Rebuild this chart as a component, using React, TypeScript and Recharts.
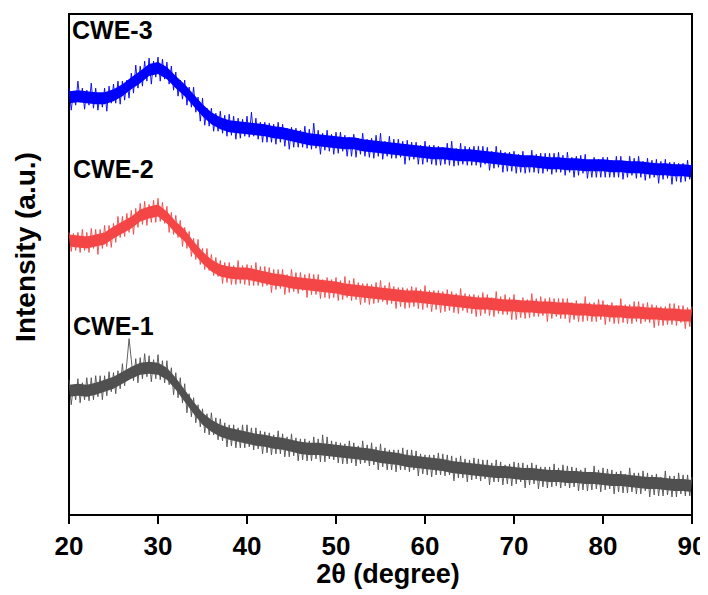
import { ComposedChart, Line, Area, XAxis, YAxis, ReferenceArea } from 'recharts';

// 2θ: scan sampled every 0.25°, dense noise core read every 1°, from 20° to 90°
const START_ANGLE = 20;
const STEP = 0.25;
const xTicks = [20, 30, 40, 50, 60, 70, 80, 90];

// intensities (a.u., offset per sample)
const cwe3 = [
  426, 404, 422, 409, 433, 412, 426, 405, 424, 409, 431, 406, 426, 404, 421, 407, 426, 403, 428, 411,
  430, 411, 433, 410, 433, 414, 434, 416, 441, 421, 449, 426, 448, 428, 453, 433, 456, 430, 453, 437,
  457, 433, 455, 435, 452, 430, 448, 424, 442, 418, 434, 415, 434, 409, 427, 407, 427, 402, 417, 393,
  416, 389, 406, 388, 406, 383, 401, 383, 403, 381, 399, 378, 400, 379, 398, 375, 396, 376, 395, 378,
  398, 377, 402, 378, 396, 375, 392, 372, 392, 372, 391, 372, 390, 370, 392, 372, 390, 368, 386, 365,
  387, 367, 386, 367, 384, 367, 388, 366, 385, 365, 391, 366, 384, 360, 381, 364, 384, 363, 380, 360,
  382, 361, 382, 363, 379, 358, 377, 358, 380, 357, 376, 360, 381, 358, 375, 357, 376, 356, 379, 358,
  381, 355, 373, 358, 378, 356, 375, 356, 375, 357, 373, 350, 374, 354, 372, 355, 372, 350, 369, 350,
  373, 352, 369, 350, 369, 349, 368, 349, 367, 350, 371, 349, 373, 348, 366, 349, 371, 350, 368, 349,
  367, 349, 368, 349, 368, 347, 368, 350, 367, 344, 363, 346, 368, 347, 364, 342, 362, 343, 362, 343,
  363, 341, 360, 342, 363, 341, 357, 342, 364, 342, 360, 341, 361, 341, 361, 343, 361, 340, 361, 342,
  362, 342, 359, 339, 362, 342, 357, 337, 358, 339, 359, 341, 360, 336, 353, 337, 357, 337, 355, 337,
  357, 337, 357, 337, 354, 337, 358, 337, 358, 335, 353, 337, 358, 339, 356, 336, 358, 337, 353, 334,
  356, 336, 354, 337, 355, 331, 353, 335, 355, 336, 352, 330, 352, 333, 351, 332, 351, 333, 354, 335,
  351,
];

const cwe2 = [
  282, 263, 281, 264, 282, 262, 285, 264, 282, 262, 286, 266, 285, 260, 285, 266, 289, 268, 289, 267,
  291, 272, 298, 277, 298, 278, 301, 282, 304, 280, 306, 287, 311, 290, 313, 289, 310, 292, 314, 292,
  316, 293, 312, 291, 308, 282, 302, 280, 299, 277, 294, 268, 287, 266, 283, 258, 276, 255, 275, 250,
  266, 245, 266, 244, 260, 239, 257, 238, 254, 231, 252, 232, 252, 230, 249, 230, 254, 231, 249, 230,
  250, 229, 249, 229, 252, 229, 248, 228, 248, 229, 247, 222, 245, 225, 245, 226, 245, 220, 240, 222,
  245, 223, 242, 221, 242, 224, 240, 217, 241, 220, 240, 220, 240, 216, 235, 217, 237, 216, 235, 217,
  237, 214, 234, 215, 238, 217, 234, 214, 236, 215, 232, 210, 231, 212, 231, 210, 230, 211, 232, 212,
  234, 213, 229, 210, 232, 211, 228, 206, 227, 208, 227, 206, 226, 207, 228, 208, 227, 206, 225, 205,
  229, 207, 224, 203, 224, 205, 224, 202, 223, 203, 225, 204, 223, 202, 221, 201, 226, 204, 221, 202,
  220, 201, 220, 198, 219, 199, 222, 201, 220, 199, 217, 198, 223, 201, 218, 200, 220, 200, 217, 195,
  220, 195, 214, 197, 217, 196, 215, 197, 221, 198, 216, 198, 218, 199, 216, 193, 217, 196, 216, 198,
  216, 196, 216, 196, 216, 192, 212, 195, 214, 193, 211, 193, 218, 194, 212, 193, 212, 193, 215, 195,
  214, 190, 210, 193, 212, 191, 209, 191, 216, 192, 210, 191, 210, 191, 213, 193, 213, 191, 211, 193,
  212, 192, 210, 187, 209, 189, 208, 189, 208, 190, 211, 190, 211, 189, 209, 192, 209, 186, 207, 188,
  208,
];

const cwe1 = [
  135, 110, 129, 115, 136, 112, 132, 115, 137, 114, 137, 115, 139, 118, 139, 115, 139, 119, 143, 123,
  142, 121, 144, 126, 151, 129, 152, 176, 155, 134, 156, 132, 157, 136, 161, 138, 159, 133, 155, 136,
  160, 135, 154, 132, 154, 130, 147, 120, 142, 117, 137, 112, 131, 102, 121, 98, 117, 92, 110, 88,
  106, 82, 101, 80, 102, 80, 97, 75, 96, 74, 92, 68, 90, 69, 90, 67, 87, 67, 90, 67,
  90, 68, 87, 65, 87, 66, 84, 61, 83, 62, 82, 60, 80, 61, 84, 61, 81, 58, 78, 58,
  81, 59, 77, 54, 76, 55, 76, 54, 74, 54, 78, 56, 76, 53, 80, 53, 78, 56, 74, 55,
  73, 52, 72, 51, 71, 51, 74, 52, 72, 49, 69, 51, 74, 52, 70, 49, 72, 50, 68, 45,
  71, 48, 67, 45, 65, 45, 65, 43, 65, 45, 67, 45, 65, 43, 65, 45, 64, 39, 61, 41,
  60, 40, 60, 38, 60, 40, 62, 40, 61, 39, 60, 40, 59, 34, 57, 37, 59, 37, 56, 33,
  55, 35, 57, 36, 56, 34, 55, 36, 55, 30, 52, 33, 55, 33, 53, 30, 50, 31, 51, 29,
  53, 31, 52, 33, 52, 27, 50, 30, 52, 31, 50, 26, 48, 28, 48, 27, 48, 28, 51, 29,
  47, 27, 50, 29, 49, 27, 48, 28, 47, 24, 45, 25, 47, 24, 43, 25, 49, 26, 45, 23,
  47, 25, 46, 26, 45, 21, 43, 23, 44, 22, 41, 22, 47, 23, 42, 21, 42, 21, 44, 24,
  42, 18, 40, 20, 41, 19, 38, 19, 44, 20, 39, 18, 39, 18, 42, 21, 40, 19, 40, 19,
  38,
];

// dense core of each noisy trace, top and bottom edge per degree
const cwe3Top = [
  423, 424, 423, 422, 422, 425, 430, 437, 443, 450, 452, 447, 438, 430, 420, 410, 402, 397, 394, 393,
  392, 391, 390, 388, 387, 385, 383, 381, 380, 379, 378, 377, 377, 375, 374, 373, 372, 371, 370, 369,
  368, 367, 367, 366, 365, 365, 364, 363, 362, 361, 360, 359, 359, 358, 357, 357, 356, 356, 355, 355,
  355, 354, 354, 353, 353, 352, 351, 351, 350, 350, 349,
];
const cwe3Bottom = [
  411, 412, 411, 410, 410, 413, 418, 425, 431, 438, 440, 435, 426, 418, 408, 398, 390, 385, 382, 381,
  380, 379, 378, 376, 375, 373, 371, 369, 368, 367, 366, 365, 365, 363, 362, 361, 360, 359, 358, 357,
  356, 355, 355, 354, 353, 353, 352, 351, 350, 349, 348, 347, 347, 346, 345, 345, 344, 344, 343, 343,
  343, 342, 342, 341, 341, 340, 339, 339, 338, 338, 337,
];
const cwe2Top = [
  280, 279, 278, 280, 282, 288, 293, 298, 305, 308, 310, 303, 293, 285, 273, 263, 255, 250, 248, 247,
  247, 245, 243, 241, 240, 238, 237, 236, 235, 234, 233, 231, 230, 229, 228, 227, 226, 225, 224, 224,
  223, 222, 221, 220, 219, 218, 217, 217, 216, 215, 215, 214, 214, 213, 213, 212, 212, 211, 211, 210,
  210, 209, 209, 208, 208, 207, 207, 206, 206, 205, 205,
];
const cwe2Bottom = [
  268, 267, 266, 268, 270, 276, 281, 286, 293, 296, 298, 291, 281, 273, 261, 251, 243, 238, 236, 235,
  235, 233, 231, 229, 228, 226, 225, 224, 223, 222, 221, 219, 218, 217, 216, 215, 214, 213, 212, 212,
  211, 210, 209, 208, 207, 206, 205, 205, 204, 203, 203, 202, 202, 201, 201, 200, 200, 199, 199, 198,
  198, 197, 197, 196, 196, 195, 195, 194, 194, 193, 193,
];
const cwe1Top = [
  130, 131, 130, 132, 135, 138, 143, 148, 152, 153, 152, 147, 137, 125, 113, 102, 95, 90, 87, 85,
  83, 81, 80, 78, 77, 75, 73, 72, 72, 71, 70, 69, 68, 67, 66, 64, 63, 62, 60, 59,
  58, 57, 56, 54, 53, 52, 51, 50, 49, 49, 48, 47, 47, 46, 45, 45, 44, 44, 43, 43,
  42, 41, 41, 40, 39, 38, 38, 37, 36, 36, 35,
];
const cwe1Bottom = [
  118, 119, 118, 120, 123, 126, 131, 136, 140, 141, 140, 135, 125, 113, 101, 90, 83, 78, 75, 73,
  71, 69, 68, 66, 65, 63, 61, 60, 60, 59, 58, 57, 56, 55, 54, 52, 51, 50, 48, 47,
  46, 45, 44, 42, 41, 40, 39, 38, 37, 37, 36, 35, 35, 34, 33, 33, 32, 32, 31, 31,
  30, 29, 29, 28, 27, 26, 26, 25, 24, 24, 23,
];

const scan = cwe3.map((v, i) => ({
  angle: START_ANGLE + i * STEP,
  cwe3: v,
  cwe2: cwe2[i],
  cwe1: cwe1[i],
}));

const core = cwe3Top.map((v, i) => ({
  angle: START_ANGLE + i,
  cwe3: [cwe3Bottom[i], v],
  cwe2: [cwe2Bottom[i], cwe2Top[i]],
  cwe1: [cwe1Bottom[i], cwe1Top[i]],
}));

const series = [
  { key: 'cwe1', color: '#505050' },
  { key: 'cwe2', color: '#f44646' },
  { key: 'cwe3', color: '#0000ff' },
];

const FONT = 'Arial, "Liberation Sans", sans-serif';

export default function App() {
  return (
    <div style={{ position: 'relative', width: 700, height: 587 }}>
      <ComposedChart
        width={700}
        height={587}
        data={scan}
        margin={{ top: 6, right: 16, left: 61, bottom: 5 }}
      >
        <XAxis
          dataKey="angle"
          type="number"
          domain={[20, 90]}
          ticks={xTicks}
          height={75}
          tickSize={9}
          tickMargin={13}
          axisLine={{ stroke: '#000', strokeWidth: 2 }}
          tickLine={{ stroke: '#000', strokeWidth: 2 }}
          tick={{ fill: '#000', fontSize: 26, fontWeight: 700, fontFamily: FONT }}
        />
        <YAxis type="number" domain={[0, 500]} hide />
        {series.map((s) => (
          <Area
            key={`core-${s.key}`}
            data={core}
            dataKey={s.key}
            stroke="none"
            fill={s.color}
            fillOpacity={1}
            isAnimationActive={false}
          />
        ))}
        {series.map((s) => (
          <Line
            key={s.key}
            dataKey={s.key}
            stroke={s.color}
            strokeWidth={1}
            strokeOpacity={0.9}
            dot={false}
            isAnimationActive={false}
          />
        ))}
        <ReferenceArea
          x1={20}
          x2={90}
          y1={0}
          y2={500}
          fill="none"
          stroke="#000"
          strokeWidth={2}
        />
      </ComposedChart>
      <svg
        width={700}
        height={587}
        style={{ position: 'absolute', left: 0, top: 0, pointerEvents: 'none' }}
        fontFamily={FONT}
        fontWeight={700}
        fill="#000"
      >
        <text x={64} y={31} fontSize={25}>CWE-3</text>
        <text x={65} y={170} fontSize={25}>CWE-2</text>
        <text x={65} y={327} fontSize={25}>CWE-1</text>
        <text x={380} y={575} fontSize={27} textAnchor="middle">2θ (degree)</text>
        <text x={27} y={239} fontSize={28} textAnchor="middle" transform="rotate(-90 27 239)">
          Intensity (a.u.)
        </text>
      </svg>
    </div>
  );
}
